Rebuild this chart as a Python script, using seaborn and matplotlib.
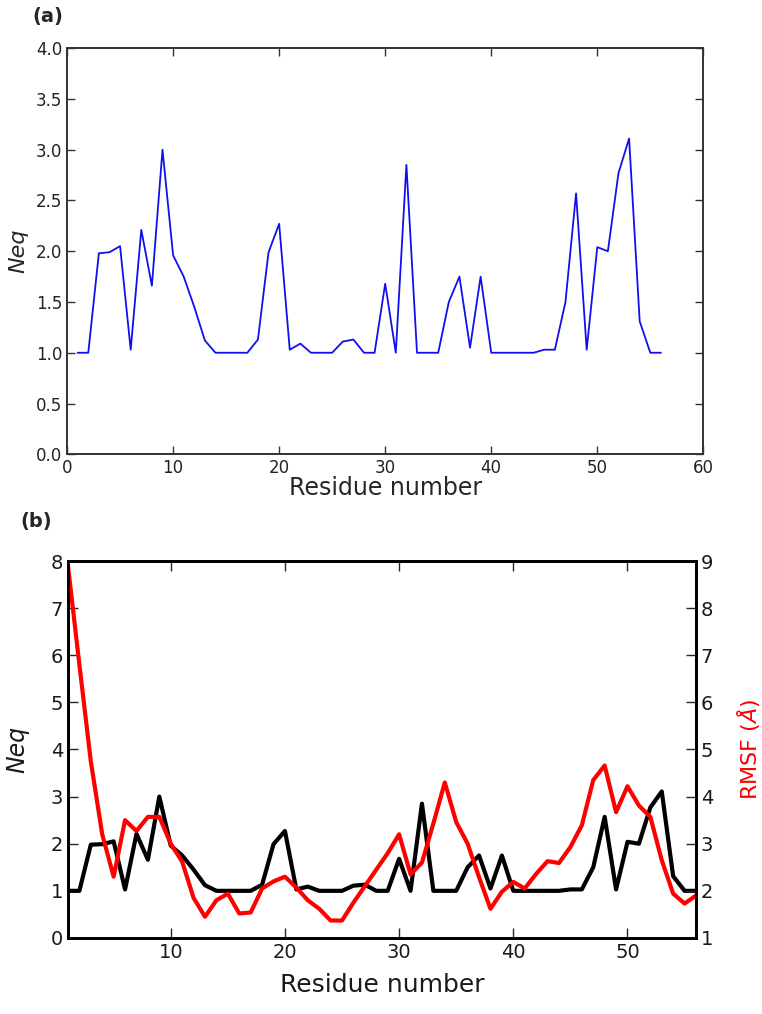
import numpy as np
import pandas as pd
import matplotlib
matplotlib.use("Agg")
import matplotlib.pyplot as plt
import seaborn as sns

# ---- dados ----
residues = list(range(1, 57))
neq = [1.0, 1.0, 1.98, 1.99, 2.05, 1.03, 2.21, 1.66, 3.0, 1.96,
       1.75, 1.45, 1.12, 1.0, 1.0, 1.0, 1.0, 1.13, 1.99, 2.27,
       1.03, 1.09, 1.0, 1.0, 1.0, 1.11, 1.13, 1.0, 1.0, 1.68,
       1.0, 2.85, 1.0, 1.0, 1.0, 1.5, 1.75, 1.05, 1.75, 1.0,
       1.0, 1.0, 1.0, 1.0, 1.03, 1.03, 1.5, 2.57, 1.03, 2.04,
       2.0, 2.77, 3.11, 1.31, 1.0, 1.0]
rmsf = [8.9, 6.8, 4.75, 3.2, 2.3, 3.5, 3.27, 3.57, 3.57, 3.0,
        2.62, 1.85, 1.45, 1.8, 1.94, 1.52, 1.54, 2.05, 2.2, 2.3,
        2.07, 1.8, 1.62, 1.37, 1.37, 1.75, 2.1, 2.45, 2.8, 3.2,
        2.35, 2.6, 3.43, 4.3, 3.46, 3.0, 2.29, 1.62, 1.98, 2.19,
        2.05, 2.36, 2.63, 2.59, 2.93, 3.39, 4.35, 4.66, 3.67, 4.22,
        3.81, 3.57, 2.65, 1.94, 1.73, 1.9]

df = pd.DataFrame({"res": residues, "neq": neq, "rmsf": rmsf})

sns.set_style("ticks")
plt.rcParams["font.family"] = ["DejaVu Sans"]
plt.rcParams["mathtext.fontset"] = "dejavusans"

fig = plt.figure(figsize=(7.62, 10.14), dpi=100)

# ---- (a) Neq ----
ax1 = fig.add_axes([0.088, 0.552, 0.835, 0.4005])
sns.lineplot(data=df, x="res", y="neq", ax=ax1, color="#1010ee", lw=1.3)
ax1.set_xlim(0, 60)
ax1.set_ylim(0, 4.0)
ax1.set_xticks(np.arange(0, 61, 10))
ax1.set_yticks(np.arange(0, 4.01, 0.5))
ax1.set_yticklabels([f"{v:.1f}" for v in np.arange(0, 4.01, 0.5)])
ax1.tick_params(direction="in", top=True, right=True, labelsize=12,
                length=6, width=1, colors="#333333", labelcolor="#222222")
ax1.set_xlabel("Residue number", fontsize=17, labelpad=-1)
ax1.set_ylabel("Neq", fontsize=16, style="italic")
ax1.yaxis.set_label_coords(-0.06, 0.5)
for s in ax1.spines.values():
    s.set_visible(True)
    s.set_linewidth(1.4)
    s.set_color("#333333")

# ---- (b) Neq + RMSF ----
ax2 = fig.add_axes([0.0892, 0.0750, 0.8242, 0.3717])
sns.lineplot(data=df, x="res", y="neq", ax=ax2, color="black", lw=3)
ax2.set_xlim(1, 56)
ax2.set_ylim(0, 8)
ax2.set_xticks([10, 20, 30, 40, 50])
ax2.set_yticks(range(0, 9))
ax2.tick_params(direction="in", top=True, labelsize=14, length=7, width=1,
                labelcolor="#1a1a1a")
ax2.set_xlabel("Residue number", fontsize=18, labelpad=8, color="#1a1a1a")
ax2.set_ylabel("Neq", fontsize=17, style="italic", color="#1a1a1a")
ax2.yaxis.set_label_coords(-0.062, 0.5)

ax3 = ax2.twinx()
sns.lineplot(data=df, x="res", y="rmsf", ax=ax3, color="red", lw=3)
ax3.set_ylim(1, 9)
ax3.set_yticks(range(1, 10))
ax3.tick_params(direction="in", labelsize=14, length=7, width=1,
                labelcolor="#1a1a1a")
ax3.set_ylabel(r"RMSF $(\AA)$", fontsize=16, color="red")
ax3.yaxis.set_label_coords(1.062, 0.5)
for a in (ax2, ax3):
    for s in a.spines.values():
        s.set_visible(True)
        s.set_linewidth(2)
        s.set_color("black")

fig.text(0.042, 0.984, "(a)", fontsize=14, fontweight="bold", ha="left", va="center")
fig.text(0.027, 0.486, "(b)", fontsize=14, fontweight="bold", ha="left", va="center")

fig.savefig("out.png", dpi=100)
